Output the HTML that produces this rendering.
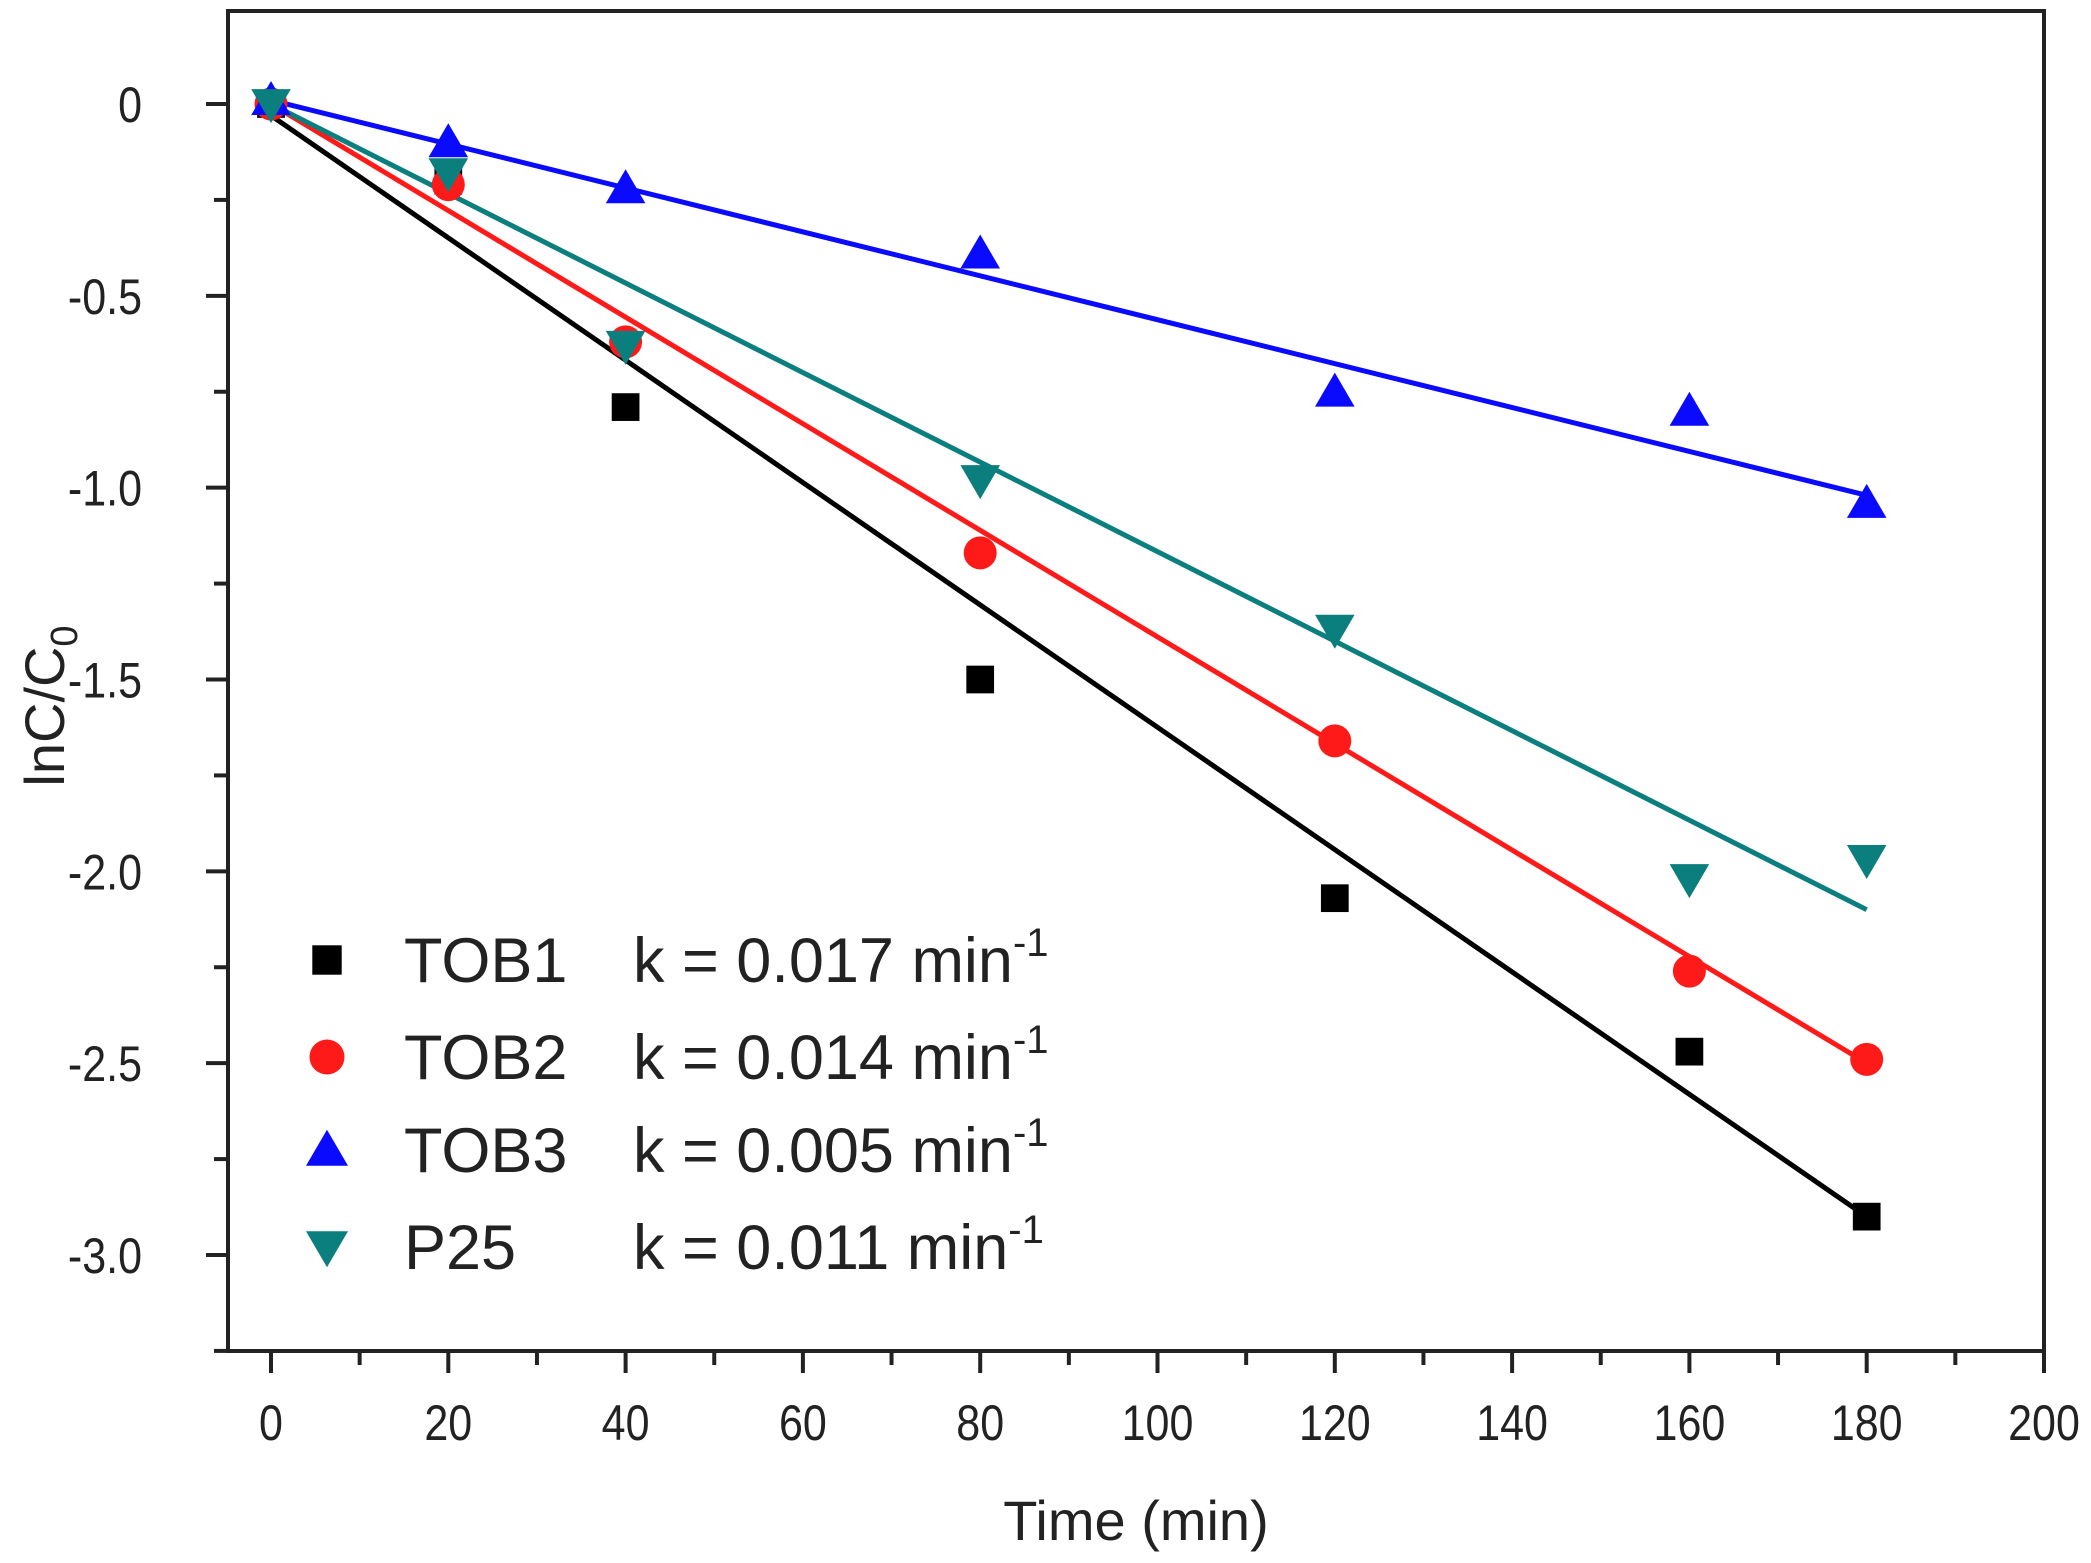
<!DOCTYPE html>
<html><head><meta charset="utf-8"><style>
html,body{margin:0;padding:0;background:#fff;}
svg{display:block;font-family:"Liberation Sans",Arial,sans-serif;}
</style></head><body>
<svg id="chart" width="2091" height="1563" viewBox="0 0 2091 1563" xmlns="http://www.w3.org/2000/svg"></svg>
<script>
const xTicks=[0,20,40,60,80,100,120,140,160,180,200];
const yTicks=[0,-0.5,-1.0,-1.5,-2.0,-2.5,-3.0];
const yTickLabels=["0","-0.5","-1.0","-1.5","-2.0","-2.5","-3.0"];
const times=[0,20,40,80,120,160,180];
const tob1=[0,-0.2,-0.79,-1.5,-2.07,-2.47,-2.9];
const tob2=[0,-0.21,-0.62,-1.17,-1.66,-2.26,-2.49];
const tob3=[0.01,-0.1,-0.22,-0.39,-0.75,-0.8,-1.04];
const p25=[0,-0.18,-0.63,-0.98,-1.37,-2.02,-1.97];
const fitStart=[-0.03,0,0.01,0];
const fitEnd=[-2.9,-2.5,-1.02,-2.1];
const seriesNames=["TOB1","TOB2","TOB3","P25"];
const kLabels=["k = 0.017 min","k = 0.014 min","k = 0.005 min","k = 0.011 min"];

const NS="http://www.w3.org/2000/svg";
const svg=document.getElementById('chart');
const L=228,R=2044,T=11,B=1351;
const X=v=>271+(v-0)*(2044-271)/200;
const Y=v=>104+(0-v)*(1255-104)/3;
function mk(tag,attrs,parent){const e=document.createElementNS(NS,tag);for(const k in attrs)e.setAttribute(k,attrs[k]);(parent||svg).appendChild(e);return e;}

const frame=mk('rect',{x:L,y:T,width:R-L,height:B-T,fill:'none',stroke:'#222','stroke-width':4});



for(let v=0;v<=200;v+=10){
  const major=v%20===0;
  const t=mk('line',{x1:X(v),x2:X(v),y1:B,y2:B+(major?22:14),stroke:'#222','stroke-width':4});
  
  
}
xTicks.forEach(v=>{
  const t=mk('text',{x:0,y:0,'font-size':50,'text-anchor':'middle',fill:'#222',transform:`translate(${X(v)},1440) scale(0.86,1)`});
  t.textContent=String(v);
  
  
});
for(let i=0;i<=14;i++){
  const v=-0.25*i; const major=i%2===0;
  if(Y(v)>B)break;
  const t=mk('line',{x1:L,x2:L-(major?22:14),y1:Y(v),y2:Y(v),stroke:'#222','stroke-width':4});
  
  
}
yTicks.forEach((v,i)=>{
  const t=mk('text',{x:0,y:0,'font-size':50,'text-anchor':'end',fill:'#222',transform:`translate(142,${Y(v)+18}) scale(0.86,1)`});
  t.textContent=yTickLabels[i];
  
  
});
const xt=mk('text',{x:1136,y:1540,'font-size':56,'text-anchor':'middle',fill:'#222'});
xt.textContent='Time (min)';


const yt=mk('text',{x:0,y:0,'font-size':56,'text-anchor':'middle',fill:'#222',transform:'translate(64,706) rotate(-90)'});
yt.innerHTML='lnC/C<tspan font-size="38" dy="13">0</tspan>';



const colors=['#000000','#ff1a1a','#0a0aff','#0b7e7e'];
const data=[tob1,tob2,tob3,p25];
function marker(type,cx,cy,color,s){
  let e;
  if(type===0)e=mk('rect',{x:cx-s*0.42,y:cy-s*0.42,width:s*0.84,height:s*0.84,fill:color});
  else if(type===1)e=mk('circle',{cx:cx,cy:cy,r:s*0.5,fill:color});
  else if(type===2)e=mk('polygon',{points:`${cx},${cy-s*0.58} ${cx-s*0.6},${cy+s*0.45} ${cx+s*0.6},${cy+s*0.45}`,fill:color});
  else e=mk('polygon',{points:`${cx},${cy+s*0.58} ${cx-s*0.6},${cy-s*0.45} ${cx+s*0.6},${cy-s*0.45}`,fill:color});
  return e;
}
[0,1,2,3].forEach(i=>{
  const l=mk('line',{x1:X(0),y1:Y(fitStart[i]),x2:X(180),y2:Y(fitEnd[i]),stroke:colors[i],'stroke-width':5});
  
  
});
[0,1,2,3].forEach(i=>{
  times.forEach((t,j)=>{
    const m=marker(i,X(t),Y(data[i][j]),colors[i],33);
    
    
  });
});
const ly=[960,1057,1150,1247];
[0,1,2,3].forEach(i=>{
  const m=marker(i,327,ly[i],colors[i],35);
  
  
  const t1=mk('text',{x:404,y:ly[i]+22,'font-size':63,fill:'#222'});
  t1.textContent=seriesNames[i];
  
  
  const t2=mk('text',{x:633,y:ly[i]+22,'font-size':63,fill:'#222'});
  t2.innerHTML=kLabels[i]+'<tspan font-size="40" dy="-26">-1</tspan>';
  
  
});
</script>
</body></html>
